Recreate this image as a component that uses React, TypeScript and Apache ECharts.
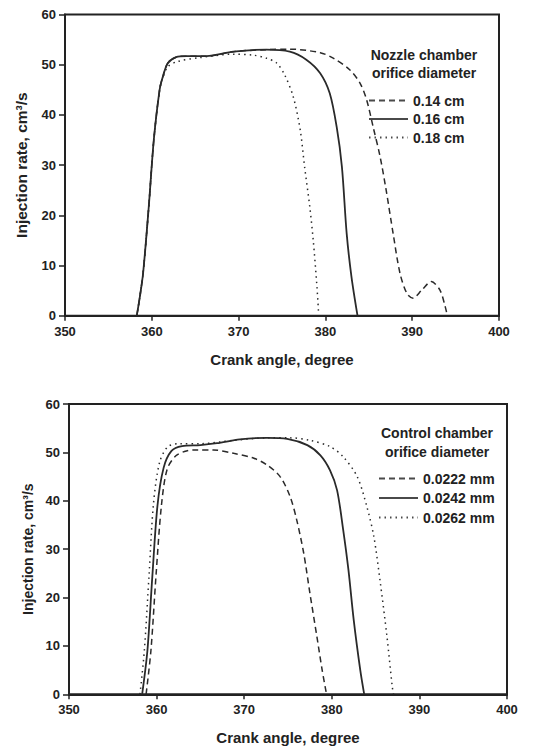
import React, { useEffect, useRef } from "react";
import * as echarts from "echarts";

// Top chart: nozzle chamber orifice diameter
const topNames = ["0.14 cm", "0.16 cm", "0.18 cm"];
const top014: [number, number][] = [
  [358.27, 0], [358.6, 3.5], [359, 8.5], [359.65, 21.7], [360.23, 35], [360.9, 45], [361.27, 47.6],
  [361.84, 50.3], [362.8, 51.5], [364, 51.7], [366.3, 51.7], [369.4, 52.6], [373.2, 53], [375.9, 53.1],
  [379.4, 52.4], [380.9, 51.3], [382.8, 49], [384, 46.3], [384.75, 43], [385.5, 37.6],
  [386.3, 31.7], [387, 25], [387.8, 16.4], [388.6, 8.4], [389.4, 4.4], [390.1, 3.5],
  [391.1, 5.1], [392.2, 6.8], [393.2, 5.1], [393.8, 1.8], [394.05, 0],
];
const top016: [number, number][] = [
  [358.27, 0], [358.6, 3.5], [359, 8.5], [359.65, 21.7], [360.23, 35], [360.9, 45], [361.27, 47.6],
  [361.84, 50.3], [362.8, 51.5], [364, 51.7], [366.3, 51.7], [369.4, 52.6], [373.2, 53], [375.9, 52.6],
  [377.8, 51], [379.4, 48.3], [380.5, 44.3], [381.3, 37.6], [381.9, 29.7], [382.45, 16.4],
  [383, 7.8], [383.7, 0],
];
const top018: [number, number][] = [
  [358.27, 0], [358.6, 3.5], [359, 8.5], [359.65, 21.7], [360.23, 35], [360.9, 45], [361.27, 47.4],
  [361.84, 49.6], [362.9, 50.6], [365.5, 51.4], [369.4, 52.1], [371.7, 51.9], [373.2, 51.3], [374.4, 50.3],
  [375.3, 48], [376.3, 43.6], [377.1, 37], [377.6, 29.7], [378.2, 21.7], [378.6, 15],
  [379, 6.4], [379.2, 1],
];

// Bottom chart: control chamber orifice diameter
const botNames = ["0.0222 mm", "0.0242 mm", "0.0262 mm"];
const bot0222: [number, number][] = [
  [358.8, 0], [359.35, 9], [359.95, 25], [360.55, 39], [361.2, 46.5], [362.2, 49.3],
  [363.4, 50.3], [364.6, 50.5], [366.5, 50.5], [368.8, 49.8], [371.1, 48.8],
  [372.6, 47.4], [374.1, 45], [375.25, 40.8], [376, 36], [376.8, 29.1], [377.5, 20.9],
  [378.3, 11.9], [378.9, 5], [379.4, 0],
];
const bot0242: [number, number][] = [
  [358.35, 0], [358.95, 9], [359.5, 24], [360.1, 39], [360.8, 46.8], [361.7, 50.3],
  [362.9, 51.3], [365, 51.5], [366.9, 51.9], [369.5, 52.7], [372.6, 53], [374.9, 52.8],
  [377.2, 51.5], [378.7, 49.4], [379.8, 46.3], [380.6, 42.2], [381.3, 34], [381.9, 25.7],
  [382.5, 15.4], [383.25, 5], [383.7, 0],
];
const bot0262: [number, number][] = [
  [358.1, 0], [358.6, 9], [359.15, 25], [359.65, 39.5], [360.35, 48], [361.3, 51.2],
  [362.7, 51.8], [365, 51.8], [368.8, 52.5], [372.6, 53], [375.25, 53],
  [377.5, 52.5], [379.8, 51.2], [381.3, 49.1], [382.9, 45], [384, 38.8], [384.8, 32.6],
  [385.5, 23.6], [386.3, 11.9], [386.9, 1.6], [387.05, 0],
];

const xTicks = { min: 350, max: 400, interval: 10 };
const yTicks = { min: 0, max: 60, interval: 10 };

const FONT = 'Arial, "Liberation Sans", sans-serif';
const INK = "#222";

const styles = [
  { type: [6, 4] as any, width: 1.5 },
  { type: "solid" as any, width: 1.8 },
  { type: [1.5, 4] as any, width: 1.5 },
];

export default function App() {
  const ref = useRef<HTMLDivElement>(null);
  useEffect(() => {
    const chart = echarts.init(ref.current!, null, { renderer: "svg" });
    const xAxisBase = (gridIndex: number) => ({
      type: "value",
      gridIndex,
      ...xTicks,
      name: "Crank angle, degree",
      nameLocation: "middle",
      nameGap: 36,
      nameTextStyle: { fontFamily: FONT, fontWeight: "bold", fontSize: 15, color: INK },
      axisLine: { show: true, onZero: false, lineStyle: { color: INK, width: 2 } },
      axisTick: { show: true, length: 5, lineStyle: { color: INK, width: 1.5 } },
      axisLabel: { fontFamily: FONT, fontWeight: "bold", fontSize: 13, color: INK, margin: 9 },
      splitLine: { show: false },
    });
    const yAxisBase = (gridIndex: number, gap: number, fs: number) => ({
      type: "value",
      gridIndex,
      ...yTicks,
      name: "Injection rate, cm³/s",
      nameLocation: "middle",
      nameGap: gap,
      nameTextStyle: { fontFamily: FONT, fontWeight: "bold", fontSize: fs, color: INK },
      axisLine: { show: true, lineStyle: { color: INK, width: 2 } },
      axisTick: { show: true, length: 6, lineStyle: { color: INK, width: 1.5 } },
      axisLabel: { fontFamily: FONT, fontWeight: "bold", fontSize: 13, color: INK, margin: 9 },
      splitLine: { show: false },
    });
    const mk = (name: string, data: [number, number][], i: number, gi: number) => ({
      type: "line",
      name,
      data,
      xAxisIndex: gi,
      yAxisIndex: gi,
      showSymbol: false,
      symbol: "none",
      smooth: 0.3,
      lineStyle: { color: "#2a2a2a", ...styles[i] },
      itemStyle: { color: "#2a2a2a" },
    });
    const legendBase = {
      orient: "vertical",
      itemWidth: 39,
      itemHeight: 14,
      padding: 0,
      itemStyle: { opacity: 0, borderWidth: 0, color: "transparent" },
      lineStyle: { opacity: 0.85 },
      textStyle: { fontFamily: FONT, fontWeight: "bold", fontSize: 14, color: INK },
      inactiveColor: "#999",
      selectedMode: false,
    };
    chart.setOption({
      animation: false,
      backgroundColor: "#fff",
      grid: [
        { left: 65, right: 42, top: 14.5, height: 301.2, show: true, borderColor: INK, borderWidth: 2 },
        { left: 69, right: 34, top: 404, height: 290.3, show: true, borderColor: INK, borderWidth: 2 },
      ],
      xAxis: [xAxisBase(0), xAxisBase(1)],
      yAxis: [yAxisBase(0, 36, 15.5), yAxisBase(1, 31, 14)],
      legend: [
        { ...legendBase, data: topNames, left: 368, top: 93.5, itemGap: 4.5 },
        { ...legendBase, data: botNames, left: 378, top: 471.5, itemGap: 5.5 },
      ],
      graphic: [
        {
          type: "text",
          x: 424,
          y: 64,
          style: {
            text: "Nozzle chamber\norifice diameter",
            fontFamily: FONT,
            fontWeight: "bold",
            fontSize: 14,
            lineHeight: 18,
            fill: INK,
            align: "center",
            verticalAlign: "middle",
          },
        },
        {
          type: "text",
          x: 437,
          y: 442.5,
          style: {
            text: "Control chamber\norifice diameter",
            fontFamily: FONT,
            fontWeight: "bold",
            fontSize: 14,
            lineHeight: 19,
            fill: INK,
            align: "center",
            verticalAlign: "middle",
          },
        },
      ],
      series: [
        mk(topNames[0], top014, 0, 0),
        mk(topNames[1], top016, 1, 0),
        mk(topNames[2], top018, 2, 0),
        mk(botNames[0], bot0222, 0, 1),
        mk(botNames[1], bot0242, 1, 1),
        mk(botNames[2], bot0262, 2, 1),
      ],
    });
    return () => chart.dispose();
  }, []);
  return (
    <div
      ref={ref}
      style={{ position: "absolute", left: 0, top: 0, width: 541, height: 749, background: "#fff" }}
    />
  );
}
